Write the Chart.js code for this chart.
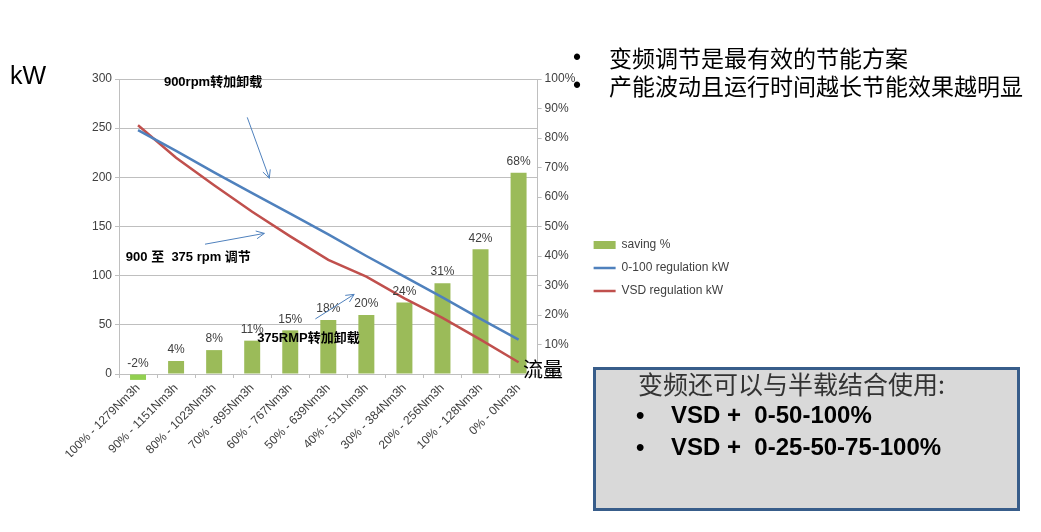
<!DOCTYPE html>
<html>
<head>
<meta charset="utf-8">
<title>变频调节</title>
<script src="https://cdn.jsdelivr.net/npm/chart.js@4"></script>
<style>
  body { margin: 0; width: 1041px; height: 532px; background: #fff; position: relative; overflow: hidden; font-family: "Liberation Sans", sans-serif; }
  #wrap { position: absolute; left: 0; top: 0; width: 739px; height: 532px; }
  .abs { position: absolute; white-space: nowrap; color: #000; }
  #kw { left: 10px; top: 60px; font-size: 25px; line-height: 30px; }
  .cjk { font-family: "Noto Sans CJK SC", sans-serif; }
  .top { font-size: 23px; line-height: 28px; }
  #flow { left: 523px; top: 355px; font-size: 20px; line-height: 28px; }
  #box { position: absolute; left: 593px; top: 367px; width: 427px; height: 144px; box-sizing: border-box; border: 3px solid #385D8A; background: #D9D9D9; }
  .vsd { font-weight: bold; font-size: 24px; line-height: 30px; }
</style>
</head>
<body>
<div id="wrap"><canvas id="myChart"></canvas></div>

<div class="abs" id="kw">kW</div>

<div class="abs top" style="left:573px; top:43px;">•</div>
<div class="abs top cjk" style="left:609px; top:43px;">变频调节是最有效的节能方案</div>
<div class="abs top" style="left:573px; top:71px;">•</div>
<div class="abs top cjk" style="left:609px; top:71px;">产能波动且运行时间越长节能效果越明显</div>

<div id="box"></div>
<div class="abs cjk" style="left:638px; top:367px; font-size:25px; line-height:32px; color:#333;">变频还可以与半载结合使用:</div>
<div class="abs vsd" style="left:636px; top:400px;">•</div>
<div class="abs vsd" style="left:671px; top:400px;">VSD&nbsp;+&nbsp;&nbsp;0-50-100%</div>
<div class="abs vsd" style="left:636px; top:432px;">•</div>
<div class="abs vsd" style="left:671px; top:432px;">VSD&nbsp;+&nbsp;&nbsp;0-25-50-75-100%</div>

<div class="abs cjk" id="flow">流量</div>

<script>
// flow steps on the x axis
const flowSteps = [
  '100% - 1279Nm3h', '90% - 1151Nm3h', '80% - 1023Nm3h', '70% - 895Nm3h',
  '60% - 767Nm3h', '50% - 639Nm3h', '40% - 511Nm3h', '30% - 384Nm3h',
  '20% - 256Nm3h', '10% - 128Nm3h', '0% - 0Nm3h'
];
// saving in %, right axis
const savingPct = [-2, 4.4, 8.1, 11.3, 14.8, 18.3, 20, 24.2, 30.8, 42.3, 68.2];
// power in kW, left axis
const regulationKW = [248, 227, 205, 184, 163, 142, 120, 99, 78, 56, 35];
const vsdKW = [253, 220, 192, 165, 140, 116, 99, 77, 57, 35, 12];

const kwTicks = { min: 0, max: 300, step: 50 };
const pctTicks = { min: 0, max: 100, step: 10 };

// notes drawn over the plot, in (category index, kW)
const notes = [
  { text: '900rpm转加卸载', at: [0.68, 297] },
  { text: '900 至  375 rpm 调节', at: [-0.32, 119] },
  { text: '375RMP转加卸载', at: [3.13, 36] }
];
const arrows = [
  { from: [2.87, 261], to: [3.45, 199] },
  { from: [1.76, 132], to: [3.32, 143] },
  { from: [4.66, 56], to: [5.68, 81] }
];

const olive = '#9BBB59';
const lightGreen = '#92D050';
const blue = '#4F81BD';
const red = '#C0504D';
const gridGrey = '#BFBFBF';
const textGrey = '#404040';

const barLabels = {
  id: 'barLabels',
  afterDatasetsDraw(chart) {
    const { ctx } = chart;
    const meta = chart.getDatasetMeta(0);
    ctx.save();
    ctx.font = '12px "Liberation Sans"';
    ctx.fillStyle = textGrey;
    ctx.textAlign = 'center';
    ctx.textBaseline = 'bottom';
    meta.data.forEach((bar, i) => {
      const top = Math.min(bar.y, bar.base);
      ctx.fillText(Math.round(savingPct[i]) + '%', bar.x, top - 5);
    });
    ctx.restore();
  }
};

const notesPlugin = {
  id: 'notes',
  afterDraw(chart) {
    const { ctx } = chart;
    const x = chart.scales.x, y = chart.scales.y;
    const px = (p) => [x.getPixelForValue(p[0]), y.getPixelForValue(p[1])];
    ctx.save();
    ctx.font = 'bold 13px "Liberation Sans", "Noto Sans CJK SC"';
    ctx.fillStyle = '#000';
    ctx.textBaseline = 'middle';
    notes.forEach((n) => {
      const [a, b] = px(n.at);
      ctx.fillText(n.text, a, b);
    });
    ctx.strokeStyle = blue;
    ctx.lineWidth = 1;
    arrows.forEach((ar) => {
      const [x1, y1] = px(ar.from);
      const [x2, y2] = px(ar.to);
      const ang = Math.atan2(y2 - y1, x2 - x1);
      ctx.beginPath();
      ctx.moveTo(x1, y1);
      ctx.lineTo(x2, y2);
      [0.45, -0.45].forEach((d) => {
        ctx.moveTo(x2, y2);
        ctx.lineTo(x2 - 9 * Math.cos(ang + d), y2 - 9 * Math.sin(ang + d));
      });
      ctx.stroke();
    });
    ctx.restore();
  }
};

function initChart(target) {
  return new Chart(target, {
    type: 'bar',
    data: {
      labels: flowSteps,
      datasets: [
        {
          type: 'bar',
          label: 'saving %',
          data: savingPct,
          yAxisID: 'y1',
          backgroundColor: savingPct.map((v, i) => (i === 0 ? lightGreen : olive)),
          barPercentage: 0.42,
          categoryPercentage: 1,
          pointStyle: 'rect',
          clip: false,
          order: 1
        },
        {
          type: 'line',
          label: '0-100 regulation kW',
          data: regulationKW,
          yAxisID: 'y',
          borderColor: blue,
          backgroundColor: blue,
          borderWidth: 2.5,
          pointRadius: 0,
          pointStyle: 'line',
          tension: 0,
          order: 0
        },
        {
          type: 'line',
          label: 'VSD regulation kW',
          data: vsdKW,
          yAxisID: 'y',
          borderColor: red,
          backgroundColor: red,
          borderWidth: 2.5,
          pointRadius: 0,
          pointStyle: 'line',
          tension: 0,
          order: 0
        }
      ]
    },
    options: {
      responsive: true,
      maintainAspectRatio: false,
      animation: false,
      layout: { padding: { left: 60, top: 79, right: 0, bottom: 75 } },
      plugins: {
        tooltip: { enabled: false },
        legend: {
          position: 'right',
          maxWidth: 300,
          labels: {
            usePointStyle: true,
            pointStyleWidth: 22,
            boxHeight: 8,
            padding: 11,
            color: textGrey,
            font: { family: 'Liberation Sans', size: 12 },
            sort: (a, b) => a.datasetIndex - b.datasetIndex,
            generateLabels(chart) {
              const items = Chart.defaults.plugins.legend.labels.generateLabels(chart);
              items.forEach((it) => {
                if (it.datasetIndex === 0) {
                  it.fillStyle = olive;
                  it.strokeStyle = olive;
                }
              });
              return items;
            }
          }
        }
      },
      scales: {
        x: {
          afterFit: (scale) => { scale.height = 83; },
          border: { color: gridGrey },
          grid: { drawOnChartArea: false, tickLength: 4, color: gridGrey },
          ticks: {
            minRotation: 45,
            maxRotation: 45,
            autoSkip: false,
            color: textGrey,
            font: { family: 'Liberation Sans', size: 12 }
          }
        },
        y: {
          position: 'left',
          min: kwTicks.min,
          max: kwTicks.max,
          afterFit: (scale) => { scale.width = 59; },
          border: { color: gridGrey },
          grid: { color: gridGrey, tickLength: 4 },
          ticks: {
            stepSize: kwTicks.step,
            color: textGrey,
            font: { family: 'Liberation Sans', size: 12 }
          }
        },
        y1: {
          position: 'right',
          min: pctTicks.min,
          max: pctTicks.max,
          afterFit: (scale) => { scale.width = 45; },
          border: { color: gridGrey },
          grid: { drawOnChartArea: false, color: gridGrey, tickLength: 4 },
          ticks: {
            stepSize: pctTicks.step,
            color: textGrey,
            font: { family: 'Liberation Sans', size: 12 },
            callback: (v) => v + '%'
          }
        }
      }
    },
    plugins: [barLabels, notesPlugin]
  });
}

document.addEventListener('DOMContentLoaded', () => {
  initChart(document.querySelector('#myChart'));
});
</script>
</body>
</html>
